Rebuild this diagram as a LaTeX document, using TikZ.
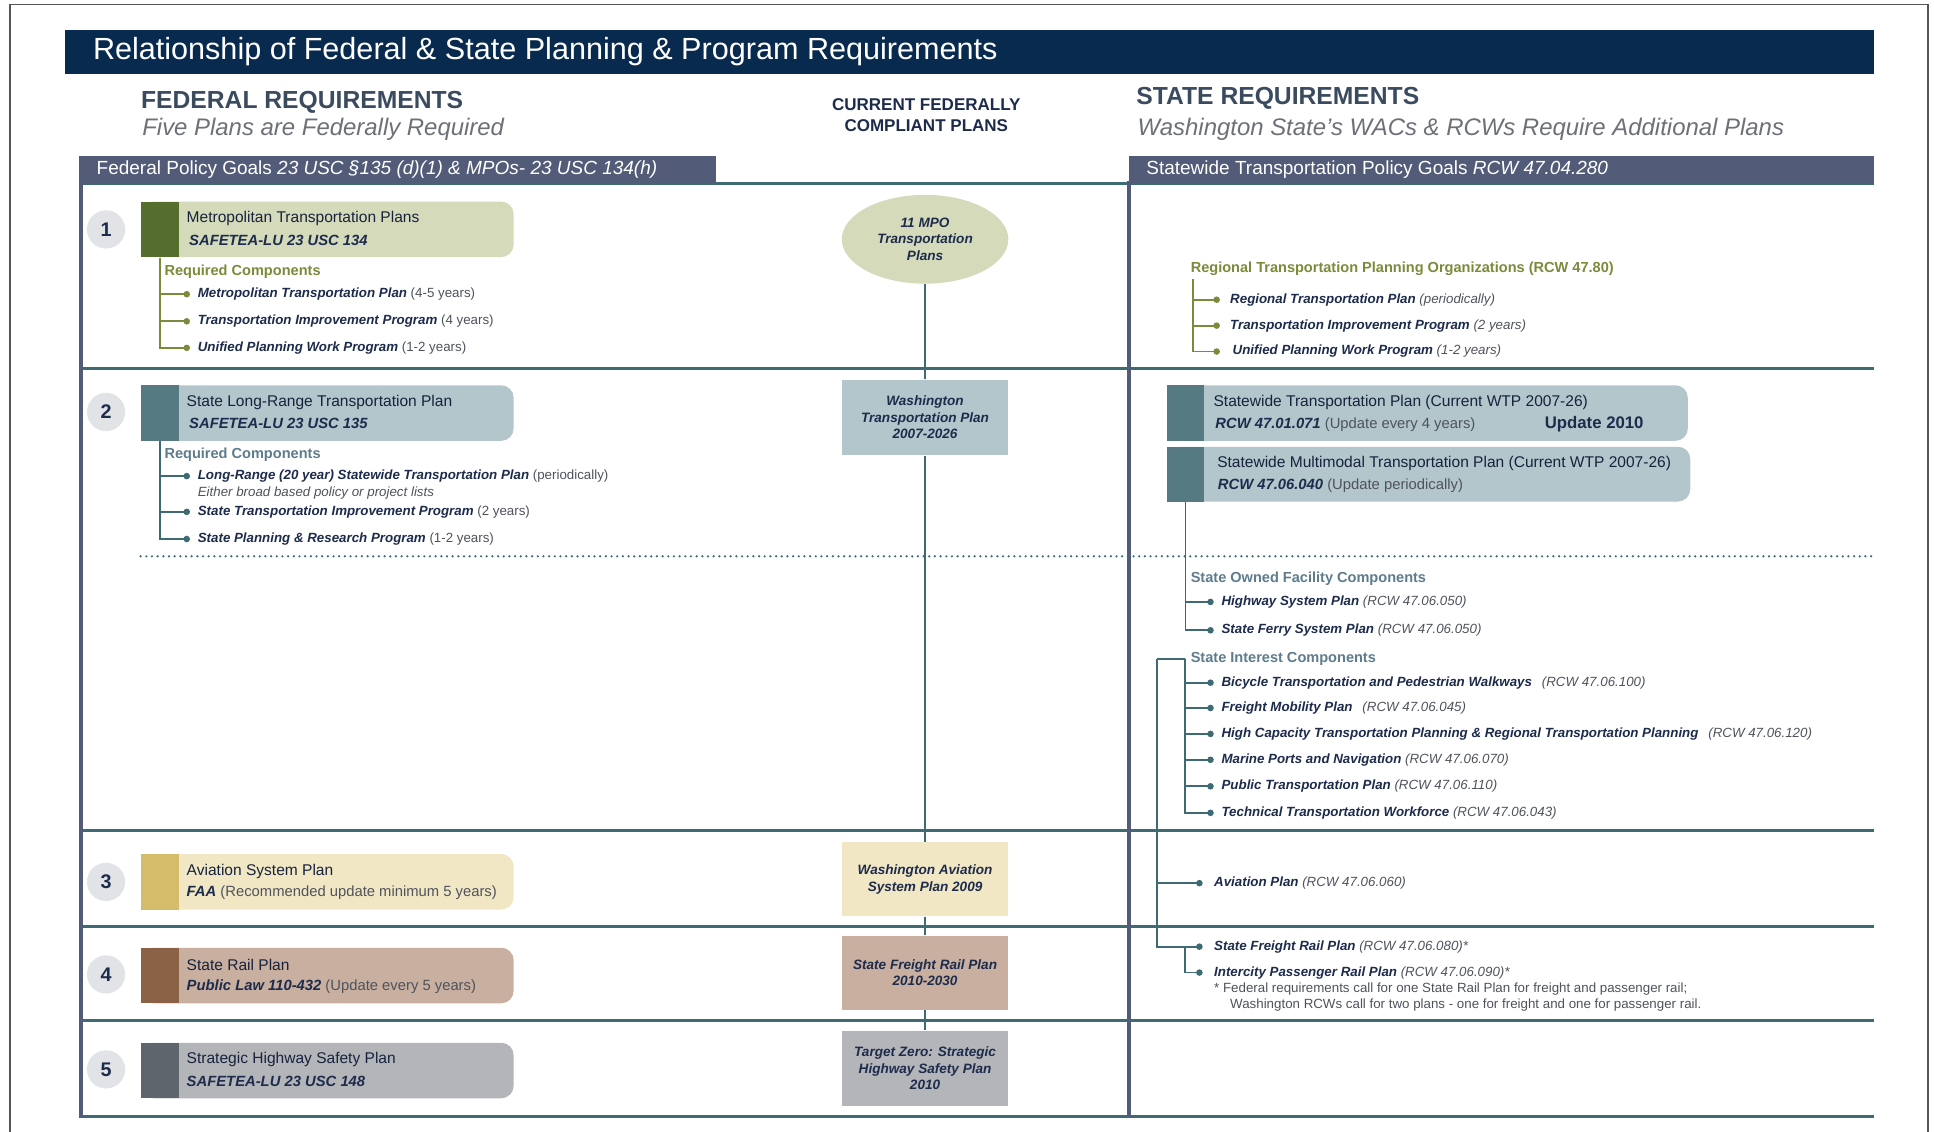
\documentclass[tikz,border=0pt]{standalone}
\usepackage{fontspec}
\setmainfont{Liberation Sans}
\usetikzlibrary{shapes.geometric,arrows.meta}
\definecolor{navy}{HTML}{082A4E}
\definecolor{hdr}{HTML}{3B4B5F}
\definecolor{subg}{HTML}{6D7177}
\definecolor{slate}{HTML}{525B77}
\definecolor{tealln}{HTML}{3D6A73}
\definecolor{ntext}{HTML}{1D2B4C}
\definecolor{ptext}{HTML}{4E535C}
\definecolor{dgreen}{HTML}{566E2D}
\definecolor{lgreen}{HTML}{D5DBBA}
\definecolor{tgreen}{HTML}{7B8B3B}
\definecolor{dteal}{HTML}{567A82}
\definecolor{lteal}{HTML}{B3C6CC}
\definecolor{tteal}{HTML}{5E7C8B}
\definecolor{dgold}{HTML}{D5BC6B}
\definecolor{lgold}{HTML}{F1E7C5}
\definecolor{dbrown}{HTML}{8C6246}
\definecolor{lbrown}{HTML}{C8AF9F}
\definecolor{dgray}{HTML}{5E656D}
\definecolor{lgray}{HTML}{B3B5B9}
\definecolor{circ}{HTML}{E1E3E6}
\definecolor{framec}{HTML}{555555}
\newcommand{\fz}[2]{\fontsize{#1}{#2}\selectfont}
\newcommand{\bi}[1]{{\bfseries\itshape #1}}
\begin{document}
\begin{tikzpicture}[x=0.5pt,y=-0.5pt,
  txt/.style={anchor=west, inner sep=0pt},
  plan/.style={rounded corners=5pt, inner sep=0pt, anchor=north west, minimum height=22.5pt},
  sq/.style={inner sep=0pt, anchor=north west, minimum width=15.5pt, minimum height=22.5pt},
  ttl/.style={txt, font=\fz{6.3pt}{7pt}, text=ntext!80!black},
  sub/.style={txt, font=\fz{6pt}{7pt}, text=ntext},
  num/.style={circle, fill=circ, minimum size=15.5pt, inner sep=0pt, font=\fz{8pt}{9pt}\bfseries, text=ntext},
  item/.style={txt, font=\fz{5.4pt}{6.5pt}, text=ntext},
  comp/.style={txt, font=\fz{5.9pt}{7pt}\bfseries},
  midbox/.style={rectangle, inner sep=0pt, minimum width=67pt, align=center, font=\fz{5.5pt}{6.7pt}\bfseries\itshape, text=ntext},
  rowline/.style={draw=tealln, line width=1.2pt},
  slateline/.style={draw=slate, line width=1.6pt},
  conn/.style={draw=tealln, line width=1pt},
  gtree/.style={draw=tgreen, line width=0.75pt, -{Circle[length=2.6pt]}},
  ttree/.style={draw=tealln, line width=0.75pt, -{Circle[length=2.6pt]}},
  tline/.style={draw=tealln, line width=0.75pt},
  paren/.style={text=ptext}
]
\useasboundingbox (0,0) rectangle (1568,917);
\fill[white] (0,0) rectangle (1568,917);
% outer frame
\draw[framec, line width=0.6pt] (8,920) -- (8,3.5) -- (1563,3.5) -- (1563,920);

% title bar
\fill[navy] (53,24) rectangle (1519,60);
\node[txt, font=\fz{12.4pt}{14pt}, text=white] (title) at (75,42) {Relationship of Federal \& State Planning \& Program Requirements};

% headers
\node[txt, font=\fz{10pt}{12pt}\bfseries, text=hdr] (fedh) at (114,83) {FEDERAL REQUIREMENTS};
\node[txt, font=\fz{9.7pt}{12pt}\itshape, text=subg] (fedsub) at (115,105) {Five Plans are Federally Required};
\node[font=\fz{6.9pt}{8.5pt}\bfseries, text=ntext, align=center, inner sep=0pt] (curh) at (751,93) {CURRENT FEDERALLY\\COMPLIANT PLANS};
\node[txt, font=\fz{10pt}{12pt}\bfseries, text=hdr] (stah) at (921,80) {STATE REQUIREMENTS};
\node[txt, font=\fz{9.7pt}{12pt}\itshape, text=subg] (stasub) at (922,105) {Washington State's WACs \& RCWs Require Additional Plans};

% grid lines
\draw[rowline] (64,149) -- (1519,149);
\draw[rowline] (66,298.5) -- (1519,298.5);
\draw[rowline] (66,673.5) -- (1519,673.5);
\draw[rowline] (66,751) -- (1519,751);
\draw[rowline] (66,827) -- (1519,827);
\draw[rowline] (66,905) -- (1519,905);
\draw[tealln, line width=1pt, line cap=round, dash pattern=on 0pt off 2.3pt] (114,451) -- (1519,451);
\draw[slateline] (65.5,147) -- (65.5,906);
\draw[slateline] (915.5,147) -- (915.5,906);

% policy bars
\node[inner sep=0pt, anchor=north west, fill=slate, minimum width=258pt, minimum height=11pt] (fbar) at (64,126) {};
\node[txt, font=\fz{7.7pt}{9pt}, text=white] (fbart) at (78,137.5) {Federal Policy Goals \textit{23 USC §135 (d)(1) \& MPOs- 23 USC 134(h)}};
\node[inner sep=0pt, anchor=north west, fill=slate, minimum width=302pt, minimum height=11pt] (sbar) at (915,126) {};
\node[txt, font=\fz{7.7pt}{9pt}, text=white] (sbart) at (929,137.5) {Statewide Transportation Policy Goals \textit{RCW 47.04.280}};

% middle column
\node[midbox, ellipse, fill=lgreen, minimum width=67.5pt, minimum height=36pt] (mpo) at (750,194) {11 MPO\\Transportation\\Plans};
\node[midbox, fill=lteal, minimum height=30.5pt] (wtp) at (750,338.5) {Washington\\Transportation Plan\\2007-2026};
\node[midbox, fill=lgold, minimum height=30pt] (wasp) at (750,713) {Washington Aviation\\System Plan 2009};
\node[midbox, fill=lbrown, minimum height=30pt] (sfrp) at (750,788.5) {State Freight Rail Plan\\2010-2030};
\node[midbox, fill=lgray, minimum height=30.5pt] (tz) at (750,866) {Target Zero: Strategic\\Highway Safety Plan\\2010};
\draw[conn] (mpo) -- (wtp);
\draw[conn] (wtp) -- (wasp);
\draw[conn] (wasp) -- (sfrp);
\draw[conn] (sfrp) -- (tz);

% number circles
\node[num] (n1) at (86,186) {1};
\node[num] (n2) at (86,334) {2};
\node[num] (n3) at (86,715) {3};
\node[num] (n4) at (86,790) {4};
\node[num] (n5) at (86,867) {5};

% federal plan boxes
\node[plan, fill=lgreen, minimum width=151pt] (p1) at (114,163) {};
\node[sq, fill=dgreen] (d1) at (114,163) {};
\node[ttl] (p1t) at (151,177) {Metropolitan Transportation Plans};
\node[sub] (p1s) at (153,195) {\bi{SAFETEA-LU 23 USC 134}};

\node[plan, fill=lteal, minimum width=151pt] (p2) at (114,312) {};
\node[sq, fill=dteal] (d2) at (114,312) {};
\node[ttl] (p2t) at (151,326) {State Long-Range Transportation Plan};
\node[sub] (p2s) at (153,343) {\bi{SAFETEA-LU 23 USC 135}};

\node[plan, fill=lgold, minimum width=151pt] (p3) at (114,692) {};
\node[sq, fill=dgold] (d3) at (114,692) {};
\node[ttl] (p3t) at (151,706.5) {Aviation System Plan};
\node[sub] (p3s) at (151,724) {\bi{FAA} {\color{ptext}(Recommended update minimum 5 years)}};

\node[plan, fill=lbrown, minimum width=151pt] (p4) at (114,768) {};
\node[sq, fill=dbrown] (d4) at (114,768) {};
\node[ttl] (p4t) at (151,782) {State Rail Plan};
\node[sub] (p4s) at (151,800) {\bi{Public Law 110-432} {\color{ptext}(Update every 5 years)}};

\node[plan, fill=lgray, minimum width=151pt] (p5) at (114,845) {};
\node[sq, fill=dgray] (d5) at (114,845) {};
\node[ttl] (p5t) at (151,859) {Strategic Highway Safety Plan};
\node[sub] (p5s) at (151,877) {\bi{SAFETEA-LU 23 USC 148}};

% row 1 federal components
\node[comp, text=tgreen] (rc1) at (133,220.5) {Required Components};
\node[item] (i11) at (160,238.5) {\bi{Metropolitan Transportation Plan} {\color{ptext}(4-5 years)}};
\node[item] (i12) at (160,260.5) {\bi{Transportation Improvement Program} {\color{ptext}(4 years)}};
\node[item] (i13) at (160,282) {\bi{Unified Planning Work Program} {\color{ptext}(1-2 years)}};
\draw[gtree] (d1.south) |- ([xshift=-3pt]i11.west);
\draw[gtree] (d1.south) |- ([xshift=-3pt]i12.west);
\draw[gtree] (d1.south) |- ([xshift=-3pt]i13.west);

% row 2 federal components
\node[comp, text=tteal] (rc2) at (133,368.5) {Required Components};
\node[item] (i21) at (160,386) {\bi{Long-Range (20 year) Statewide Transportation Plan} {\color{ptext}(periodically)}};
\node[item, text=ptext, font=\fz{5.4pt}{6.5pt}\itshape] (i21b) at (160,399.5) {Either broad based policy or project lists};
\node[item] (i22) at (160,415) {\bi{State Transportation Improvement Program} {\color{ptext}(2 years)}};
\node[item] (i23) at (160,437) {\bi{State Planning \& Research Program} {\color{ptext}(1-2 years)}};
\draw[ttree] (d2.south) |- ([xshift=-3pt]i21.west);
\draw[ttree] (d2.south) |- ([xshift=-3pt]i22.west);
\draw[ttree] (d2.south) |- ([xshift=-3pt]i23.west);

% state row 1
\node[comp, text=tgreen] (rtpo) at (965,217.5) {Regional Transportation Planning Organizations (RCW 47.80)};
\coordinate (rtroot) at (967,226);
\node[item] (r11) at (997,243) {\bi{Regional Transportation Plan} {\color{ptext}\itshape(periodically)}};
\node[item] (r12) at (997,264) {\bi{Transportation Improvement Program} {\color{ptext}\itshape(2 years)}};
\node[item] (r13) at (999,285) {\bi{Unified Planning Work Program} {\color{ptext}\itshape(1-2 years)}};
\draw[gtree] (rtroot) |- ([xshift=-4pt]r11.west);
\draw[gtree] (rtroot) |- ([xshift=-4pt]r12.west);
\draw[gtree] (rtroot) |- ([xshift=-5pt]r13.west);

% state row 2 boxes
\node[plan, fill=lteal, minimum width=211pt] (s1) at (946,312) {};
\node[sq, fill=dteal, minimum width=14.75pt] (sd1) at (946,312) {};
\node[ttl] (s1t) at (983.5,326.5) {Statewide Transportation Plan (Current WTP 2007-26)};
\node[sub] (s1s) at (985,344) {\bi{RCW 47.01.071} {\color{ptext}(Update every 4 years)}};
\node[txt, font=\fz{6.8pt}{8pt}\bfseries, text=ntext] (s1u) at (1252,343.5) {Update 2010};

\node[plan, fill=lteal, minimum width=212pt, minimum height=22.2pt] (s2) at (946,361.8) {};
\node[sq, fill=dteal, minimum width=14.75pt, minimum height=22.2pt] (sd2) at (946,361.8) {};
\node[ttl] (s2t) at (986.5,375.5) {Statewide Multimodal Transportation Plan (Current WTP 2007-26)};
\node[sub] (s2s) at (987,393.5) {\bi{RCW 47.06.040} {\color{ptext}(Update periodically)}};

% state owned facility components
\node[comp, text=tteal] (sofc) at (965,469) {State Owned Facility Components};
\node[item] (h1) at (990,488) {\bi{Highway System Plan} {\color{ptext}\itshape(RCW 47.06.050)}};
\node[item] (h2) at (990,511) {\bi{State Ferry System Plan} {\color{ptext}\itshape(RCW 47.06.050)}};
\draw[ttree] (sd2.south) |- ([xshift=-3pt]h1.west);
\draw[ttree] (sd2.south) |- ([xshift=-3pt]h2.west);

% state interest components
\node[comp, text=tteal] (sic) at (965,534) {State Interest Components};
\coordinate (siL) at (938,534);
\coordinate (siR) at (961,534);
\draw[tline] (siL) -- (siR);
\node[item] (c1) at (990,553.5) {\bi{Bicycle Transportation and Pedestrian Walkways}\hspace{2.5pt} {\color{ptext}\itshape(RCW 47.06.100)}};
\node[item] (c2) at (990,574) {\bi{Freight Mobility Plan}\hspace{2.5pt} {\color{ptext}\itshape(RCW 47.06.045)}};
\node[item] (c3) at (990,595) {\bi{High Capacity Transportation Planning \& Regional Transportation Planning}\hspace{2.5pt} {\color{ptext}\itshape(RCW 47.06.120)}};
\node[item] (c4) at (990,616) {\bi{Marine Ports and Navigation} {\color{ptext}\itshape(RCW 47.06.070)}};
\node[item] (c5) at (990,637.5) {\bi{Public Transportation Plan} {\color{ptext}\itshape(RCW 47.06.110)}};
\node[item] (c6) at (990,659) {\bi{Technical Transportation Workforce} {\color{ptext}\itshape(RCW 47.06.043)}};
\foreach \c in {c1,c2,c3,c4,c5,c6}{
  \draw[ttree] (siR) |- ([xshift=-3pt]\c.west);
}

% aviation & rail
\node[item] (av) at (984,716) {\bi{Aviation Plan} {\color{ptext}\itshape(RCW 47.06.060)}};
\node[item] (fr) at (984,767.5) {\bi{State Freight Rail Plan} {\color{ptext}\itshape(RCW 47.06.080)*}};
\node[item] (ip) at (984,788.5) {\bi{Intercity Passenger Rail Plan} {\color{ptext}\itshape(RCW 47.06.090)*}};
\coordinate (railR) at (961,767.5);
\draw[ttree] (siL) |- ([xshift=-4.5pt]av.west);
\draw[ttree] (siL) |- ([xshift=-4.5pt]fr.west);
\draw[ttree] (railR) |- ([xshift=-4.5pt]ip.west);
\node[item, text=ptext] (fn1) at (984,802) {* Federal requirements call for one State Rail Plan for freight and passenger rail;};
\node[item, text=ptext] (fn2) at (997,815) {Washington RCWs call for two plans - one for freight and one for passenger rail.};
\end{tikzpicture}
\end{document}
